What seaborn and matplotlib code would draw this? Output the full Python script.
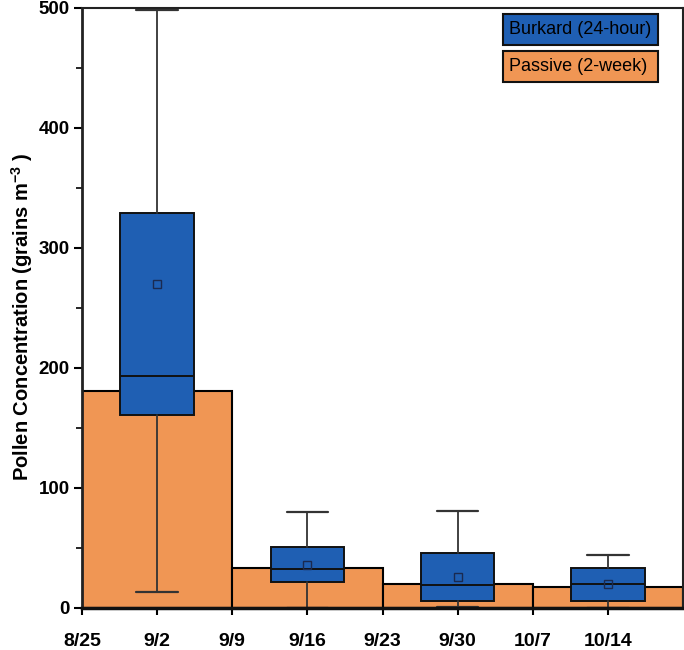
import matplotlib
matplotlib.use("Agg")
import matplotlib.pyplot as plt
import seaborn as sns
from matplotlib.patches import Rectangle
from matplotlib.ticker import MultipleLocator

# ---- data ----
tick_labels = ["8/25", "9/2", "9/9", "9/16", "9/23", "9/30", "10/7", "10/14"]
passive_bin_edges = [0, 2, 4, 6, 8]          # weeks since 8/25
passive_centers = [1, 3, 5, 7]
passive_values = [181, 33, 20, 17.5]

burkard_positions = [1, 3, 5, 7]
burkard_whislo = [13, 0, 1, 0]
burkard_q1 = [161, 21.7, 6, 6]
burkard_median = [193, 32.5, 19.5, 20]
burkard_q3 = [329, 50.5, 45.5, 33]
burkard_whishi = [498, 80, 81, 44]
burkard_mean = [270, 36, 26, 20]

BLUE = "#1f5fb3"
ORANGE = "#f09654"

sns.set_style("ticks")
plt.rcParams["font.family"] = ["Liberation Sans", "DejaVu Sans"]
plt.rcParams["text.color"] = "black"
plt.rcParams["axes.labelcolor"] = "black"
plt.rcParams["xtick.color"] = "black"
plt.rcParams["ytick.color"] = "black"
plt.rcParams["mathtext.fontset"] = "custom"
plt.rcParams["mathtext.rm"] = "Liberation Sans"
plt.rcParams["mathtext.bf"] = "Liberation Sans:bold"

fig = plt.figure(figsize=(6.84, 6.5), dpi=100)
ax = fig.add_axes([82 / 684, 42 / 650, 601 / 684, 600 / 650])

sns.histplot(x=passive_centers, weights=passive_values, bins=passive_bin_edges,
             color=ORANGE, edgecolor="black", linewidth=1.5, alpha=1.0, ax=ax, zorder=2)

stats = []
for i in range(len(burkard_positions)):
    stats.append(dict(med=burkard_median[i], q1=burkard_q1[i], q3=burkard_q3[i],
                      whislo=burkard_whislo[i], whishi=burkard_whishi[i],
                      mean=burkard_mean[i], fliers=[]))
ax.bxp(stats, positions=burkard_positions, widths=0.98, capwidths=0.55,
       patch_artist=True, showmeans=True, manage_ticks=False, zorder=3,
       boxprops=dict(facecolor=BLUE, edgecolor="#111111", linewidth=1.4),
       medianprops=dict(color="#111111", linewidth=1.4),
       whiskerprops=dict(color="#333333", linewidth=1.3),
       capprops=dict(color="#333333", linewidth=1.6),
       meanprops=dict(marker="s", markerfacecolor="none", markeredgecolor="#1a2a50",
                      markersize=6, markeredgewidth=1.0))

ax.set_xlim(0, 8)
ax.set_ylim(0, 500)
ax.set_xticks(range(len(tick_labels)))
ax.set_xticklabels(tick_labels, fontweight="bold", fontsize=14)
ax.yaxis.set_major_locator(MultipleLocator(100))
ax.yaxis.set_minor_locator(MultipleLocator(50))
for lab in ax.get_yticklabels():
    lab.set_fontweight("bold")
    lab.set_fontsize(13.5)
ax.tick_params(axis="x", which="major", direction="out", length=5, width=1.5, pad=13)
ax.tick_params(axis="y", which="major", direction="out", length=6, width=1.5, pad=3)
ax.tick_params(axis="y", which="minor", direction="out", length=4, width=1.2)
ax.set_xlabel("")
ax.set_ylabel("Pollen Concentration (grains m$^{\\mathbf{-3}}$ )", fontsize=14.5,
              fontweight="bold", labelpad=2.5)
ax.yaxis.label.set_y(0.485)

for side in ["top", "right"]:
    ax.spines[side].set_visible(True)
    ax.spines[side].set_linewidth(1.5)
    ax.spines[side].set_color("#222222")
ax.spines["left"].set_linewidth(2.0)
ax.spines["bottom"].set_linewidth(2.5)
ax.spines["left"].set_color("#222222")
ax.spines["bottom"].set_color("#111111")
ax.spines["bottom"].set_zorder(5)

# legend-like labelled boxes
legend_items = [("Burkard (24-hour)", BLUE), ("Passive (2-week)", ORANGE)]
box_x, box_w, box_h = (503 - 82) / 601, 155 / 601, 31 / 600
box_tops = [(608 - 14) / 600, (608 - 51) / 600]
for (txt, col), top in zip(legend_items, box_tops):
    ax.add_patch(Rectangle((box_x, top - box_h), box_w, box_h, transform=ax.transAxes,
                           facecolor=col, edgecolor="#111111", linewidth=1.5, zorder=6))
    ax.text(box_x + 6 / 601, top - box_h / 2, txt, transform=ax.transAxes,
            ha="left", va="center", fontsize=13, color="black", zorder=7)

fig.savefig("out.png", dpi=100)
